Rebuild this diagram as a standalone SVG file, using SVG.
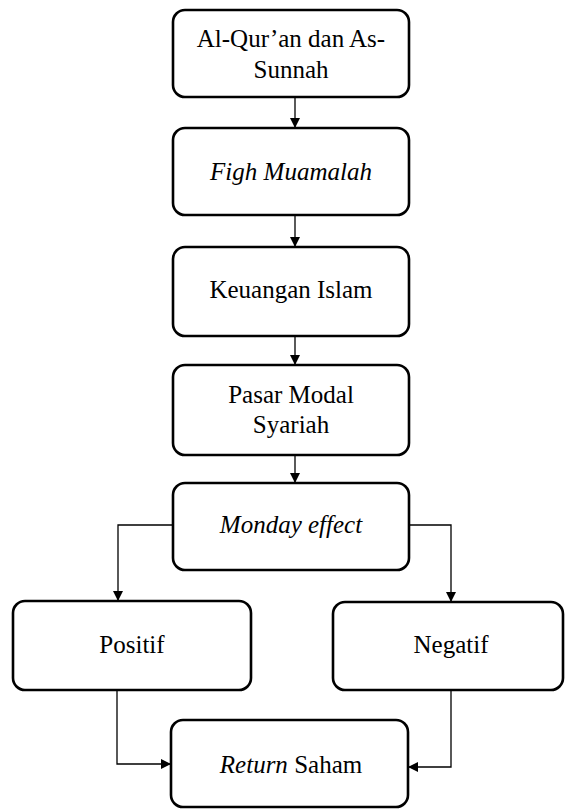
<svg xmlns="http://www.w3.org/2000/svg" width="565" height="810" viewBox="0 0 565 810">
<style>
.box{fill:#fff;stroke:#000;stroke-width:2.6}
.c{fill:none;stroke:#000;stroke-width:1.3}
</style>
<defs>
<marker id="ah" markerWidth="10" markerHeight="10" refX="9" refY="5" orient="auto" markerUnits="userSpaceOnUse">
<path d="M0,0 L10,5 L0,10 Z" fill="#000"/>
</marker>
</defs>
<rect width="565" height="810" fill="#fff"/>
<g id="connectors">
<line class="c" x1="295" y1="97" x2="295" y2="127" marker-end="url(#ah)"/>
<line class="c" x1="295" y1="215" x2="295" y2="246" marker-end="url(#ah)"/>
<line class="c" x1="295" y1="336" x2="295" y2="364" marker-end="url(#ah)"/>
<line class="c" x1="295" y1="455" x2="295" y2="482" marker-end="url(#ah)"/>
<path class="c" d="M173,525 H118 V600" marker-end="url(#ah)"/>
<path class="c" d="M409,525 H451 V601" marker-end="url(#ah)"/>
<path class="c" d="M117,690 V764 H170" marker-end="url(#ah)"/>
<path class="c" d="M451,690 V767 H409" marker-end="url(#ah)"/>
</g>
<g id="n1"><rect class="box" x="173" y="10" width="236" height="87" rx="12"/>
<text x="291" y="47" font-family="Liberation Serif, serif" font-size="25" text-anchor="middle">Al-Qur’an dan As-</text>
<text x="291" y="78" font-family="Liberation Serif, serif" font-size="25" text-anchor="middle">Sunnah</text></g>
<g id="n2"><rect class="box" x="173" y="128" width="236" height="87" rx="12"/>
<text x="291" y="180" font-family="Liberation Serif, serif" font-size="25" font-style="italic" text-anchor="middle">Figh Muamalah</text></g>
<g id="n3"><rect class="box" x="173" y="247" width="236" height="89" rx="12"/>
<text x="291" y="298" font-family="Liberation Serif, serif" font-size="25" text-anchor="middle">Keuangan Islam</text></g>
<g id="n4"><rect class="box" x="173" y="365" width="236" height="90" rx="12"/>
<text x="291" y="403" font-family="Liberation Serif, serif" font-size="25" text-anchor="middle">Pasar Modal</text>
<text x="291" y="433" font-family="Liberation Serif, serif" font-size="25" text-anchor="middle">Syariah</text></g>
<g id="n5"><rect class="box" x="173" y="483" width="236" height="87" rx="12"/>
<text x="291" y="533" font-family="Liberation Serif, serif" font-size="25" font-style="italic" text-anchor="middle">Monday effect</text></g>
<g id="n6"><rect class="box" x="13" y="601" width="238" height="89" rx="12"/>
<text x="132" y="653" font-family="Liberation Serif, serif" font-size="25" text-anchor="middle">Positif</text></g>
<g id="n7"><rect class="box" x="333" y="602" width="230" height="88" rx="12"/>
<text x="451" y="653" font-family="Liberation Serif, serif" font-size="25" text-anchor="middle">Negatif</text></g>
<g id="n8"><rect class="box" x="171" y="720" width="237" height="87" rx="12"/>
<text x="291" y="773" font-family="Liberation Serif, serif" font-size="25" text-anchor="middle"><tspan font-style="italic">Return</tspan> Saham</text></g>
</svg>
